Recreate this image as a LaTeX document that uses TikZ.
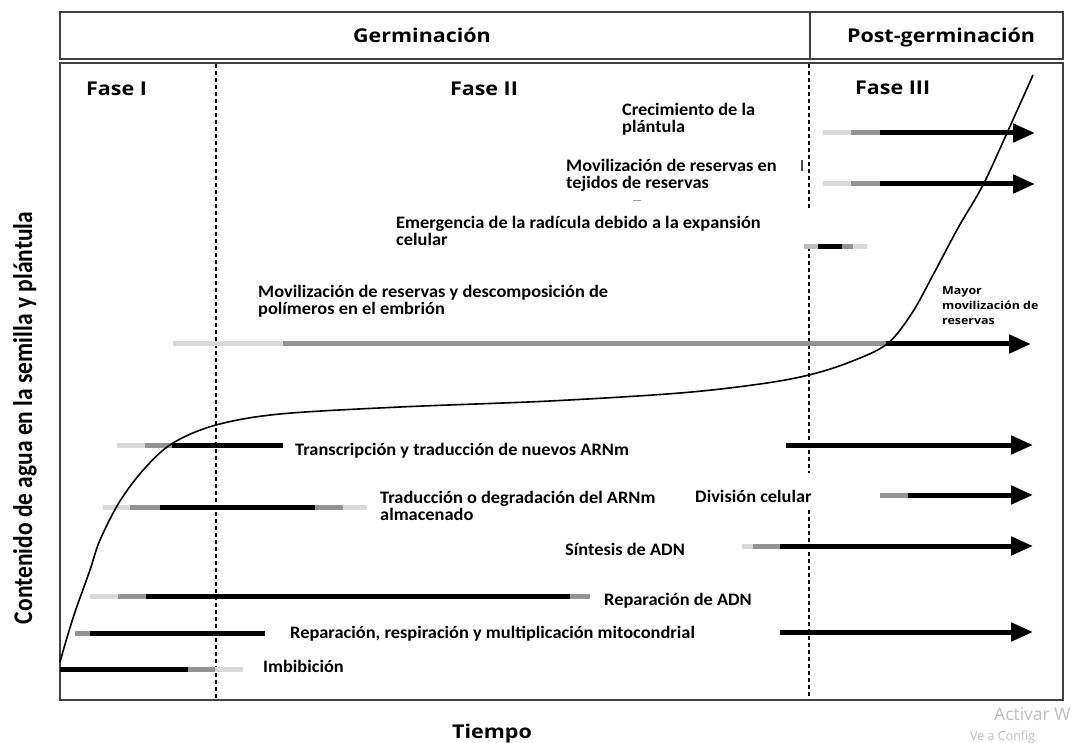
\documentclass[tikz,border=0pt]{standalone}
\usepackage{fontspec}
\usepackage{graphicx}
\setmainfont{Carlito}
\newfontfamily\hdr[FakeStretch=1.13]{Open Sans}
\newfontfamily\lblfont[FakeStretch=1.05]{Carlito}
\newfontfamily\wmfont{Open Sans}
\usetikzlibrary{arrows.meta}
\definecolor{lgray}{HTML}{D9D9D9}
\definecolor{mgray}{HTML}{939393}
\definecolor{frm}{HTML}{404040}
\definecolor{wmark}{HTML}{BDBDBD}
\begin{document}
\begin{tikzpicture}[x=1pt,y=-1pt,
  frame/.style={draw=frm,line width=1.8pt},
  phase/.style={draw=black,line width=1.4pt,dash pattern=on 4pt off 3pt},
  lg/.style={draw=lgray,line width=5pt},
  mg/.style={draw=mgray,line width=5pt},
  bk/.style={draw=black,line width=5pt},
  arr/.style={draw=black,line width=5pt,-{Triangle[length=22pt,width=18pt]}},
  head/.style={font=\hdr\bfseries\fontsize{19}{22}\selectfont,inner sep=0pt},
  lbl/.style={font=\lblfont\bfseries\fontsize{17.5}{17}\selectfont,inner sep=0pt,align=left,anchor=base west},
  small/.style={font=\hdr\bfseries\fontsize{11}{15}\selectfont,inner sep=0pt,align=left,anchor=base west},
  curve/.style={draw=black,line width=1.6pt}]
\useasboundingbox (0,0) rectangle (1077,743);
% frames
\draw[frame] (60,12) rectangle (1063,59);
\draw[frame] (810,12) -- (810,59);
\draw[frame] (60,63) rectangle (1063,700);
\node[head,anchor=base] (germ) at (422,43) {Germinación};
\node[head,anchor=base] (post) at (941,43) {Post-germinación};
\node[head,anchor=base west] (f1) at (86,96) {Fase I};
\node[head,anchor=base] (f2) at (484,96) {Fase II};
\node[head,anchor=base west] (f3) at (855,95) {Fase III};
% phase lines
\draw[phase] (216,64) -- (216,699);
\draw[phase] (809,64) -- (809,208);
\draw[phase] (809,247) -- (809,473);
\draw[phase] (809,510) -- (809,699);
% Crecimiento
\draw[lg] (823,133) -- (851,133);
\draw[mg] (851,133) -- (880,133);
\draw[arr] (880,133) -- (1035,133);
% Movilizacion tejidos
\draw[lg] (823,184) -- (851,184);
\draw[mg] (851,184) -- (880,184);
\draw[arr] (880,184) -- (1035,184);
% Emergencia
\draw[mgray!60,line width=5pt] (804,247) -- (818,247);
\draw[bk] (818,247) -- (842,247);
\draw[mg] (842,247) -- (853,247);
\draw[lg] (853,247) -- (867,247);
% Movilizacion embrion
\draw[lg] (173,344) -- (283,344);
\draw[mg] (283,344) -- (886,344);
\draw[arr] (886,344) -- (1031,344);
% Transcripcion
\draw[lg] (117,445) -- (145,445);
\draw[mg] (145,445) -- (172,445);
\draw[bk] (172,445) -- (283,445);
\draw[arr] (786,445) -- (1033,445);
% Traduccion
\draw[lg] (103,507) -- (130,507);
\draw[mg] (130,507) -- (160,507);
\draw[bk] (160,507) -- (315,507);
\draw[mg] (315,507) -- (343,507);
\draw[lg] (343,507) -- (367,507);
% Division celular
\draw[mg] (880,495) -- (908,495);
\draw[arr] (908,495) -- (1033,495);
% Sintesis
\draw[lg] (742,546) -- (753,546);
\draw[mg] (753,546) -- (780,546);
\draw[arr] (780,546) -- (1033,546);
% Reparacion ADN
\draw[lg] (90,596) -- (118,596);
\draw[mg] (118,596) -- (146,596);
\draw[bk] (146,596) -- (570,596);
\draw[mg] (570,596) -- (590,596);
% Mitocondrial
\draw[mg] (75,633) -- (90,633);
\draw[bk] (90,633) -- (265,633);
\draw[arr] (780,632) -- (1033,632);
% Imbibicion
\draw[bk] (60,669) -- (188,669);
\draw[mg] (188,669) -- (215,669);
\draw[lg] (215,669) -- (243,669);
% small marks
\draw[black!70,line width=1.5pt] (802,160) -- (802,171);
\draw[black!40,line width=1pt] (633,201) -- (641,201);
% curve
\draw[curve] plot[smooth,tension=0.55] coordinates {(60,662) (66,641) (75,612) (90,570) (100,540) (120,501) (145,468) (173,443) (216,425) (280,414) (400,407) (550,401) (680,393) (760,384) (809,375) (850,362) (887,344) (912,313) (933,275) (958,228) (983,185) (1007,133) (1033,75)};
% labels
\node[lbl] (crec) at (622,133) {Crecimiento de la\\plántula};
\node[lbl] (movt) at (566,189) {Movilización de reservas en\\tejidos de reservas};
\node[lbl] (emer) at (396,246) {Emergencia de la radícula debido a la expansión\\celular};
\node[lbl] (move) at (258,315) {Movilización de reservas y descomposición de\\polímeros en el embrión};
\node[small] (mayor) at (942,325) {Mayor\\movilización de\\reservas};
\node[lbl] (trans) at (295,455) {Transcripción y traducción de nuevos ARNm};
\node[lbl] (trad) at (380,520) {Traducción o degradación del ARNm\\almacenado};
\node[lbl] (div) at (695,502) {División celular};
\node[lbl] (sint) at (565,555) {Síntesis de ADN};
\node[lbl] (repa) at (604,605) {Reparación de ADN};
\node[lbl] (mito) at (290,638) {Reparación, respiración y multiplicación mitocondrial};
\node[lbl] (imb) at (263,672) {Imbibición};
% axes labels
\node[font=\bfseries\fontsize{23.5}{26}\selectfont,inner sep=0pt,rotate=90] (ylab) at (25,418) {\scalebox{1}[1.15]{Contenido de agua en la semilla y plántula}};
\node[head,anchor=base] (xlab) at (492,738) {Tiempo};
% watermark
\node[font=\wmfont\fontsize{17.5}{20}\selectfont,text=wmark,anchor=base west,inner sep=0pt] (wm1) at (994,720) {Activar W};
\node[font=\wmfont\fontsize{12.5}{14}\selectfont,text=wmark,anchor=base west,inner sep=0pt] (wm2) at (970,740) {Ve a Config};
\end{tikzpicture}
\end{document}
